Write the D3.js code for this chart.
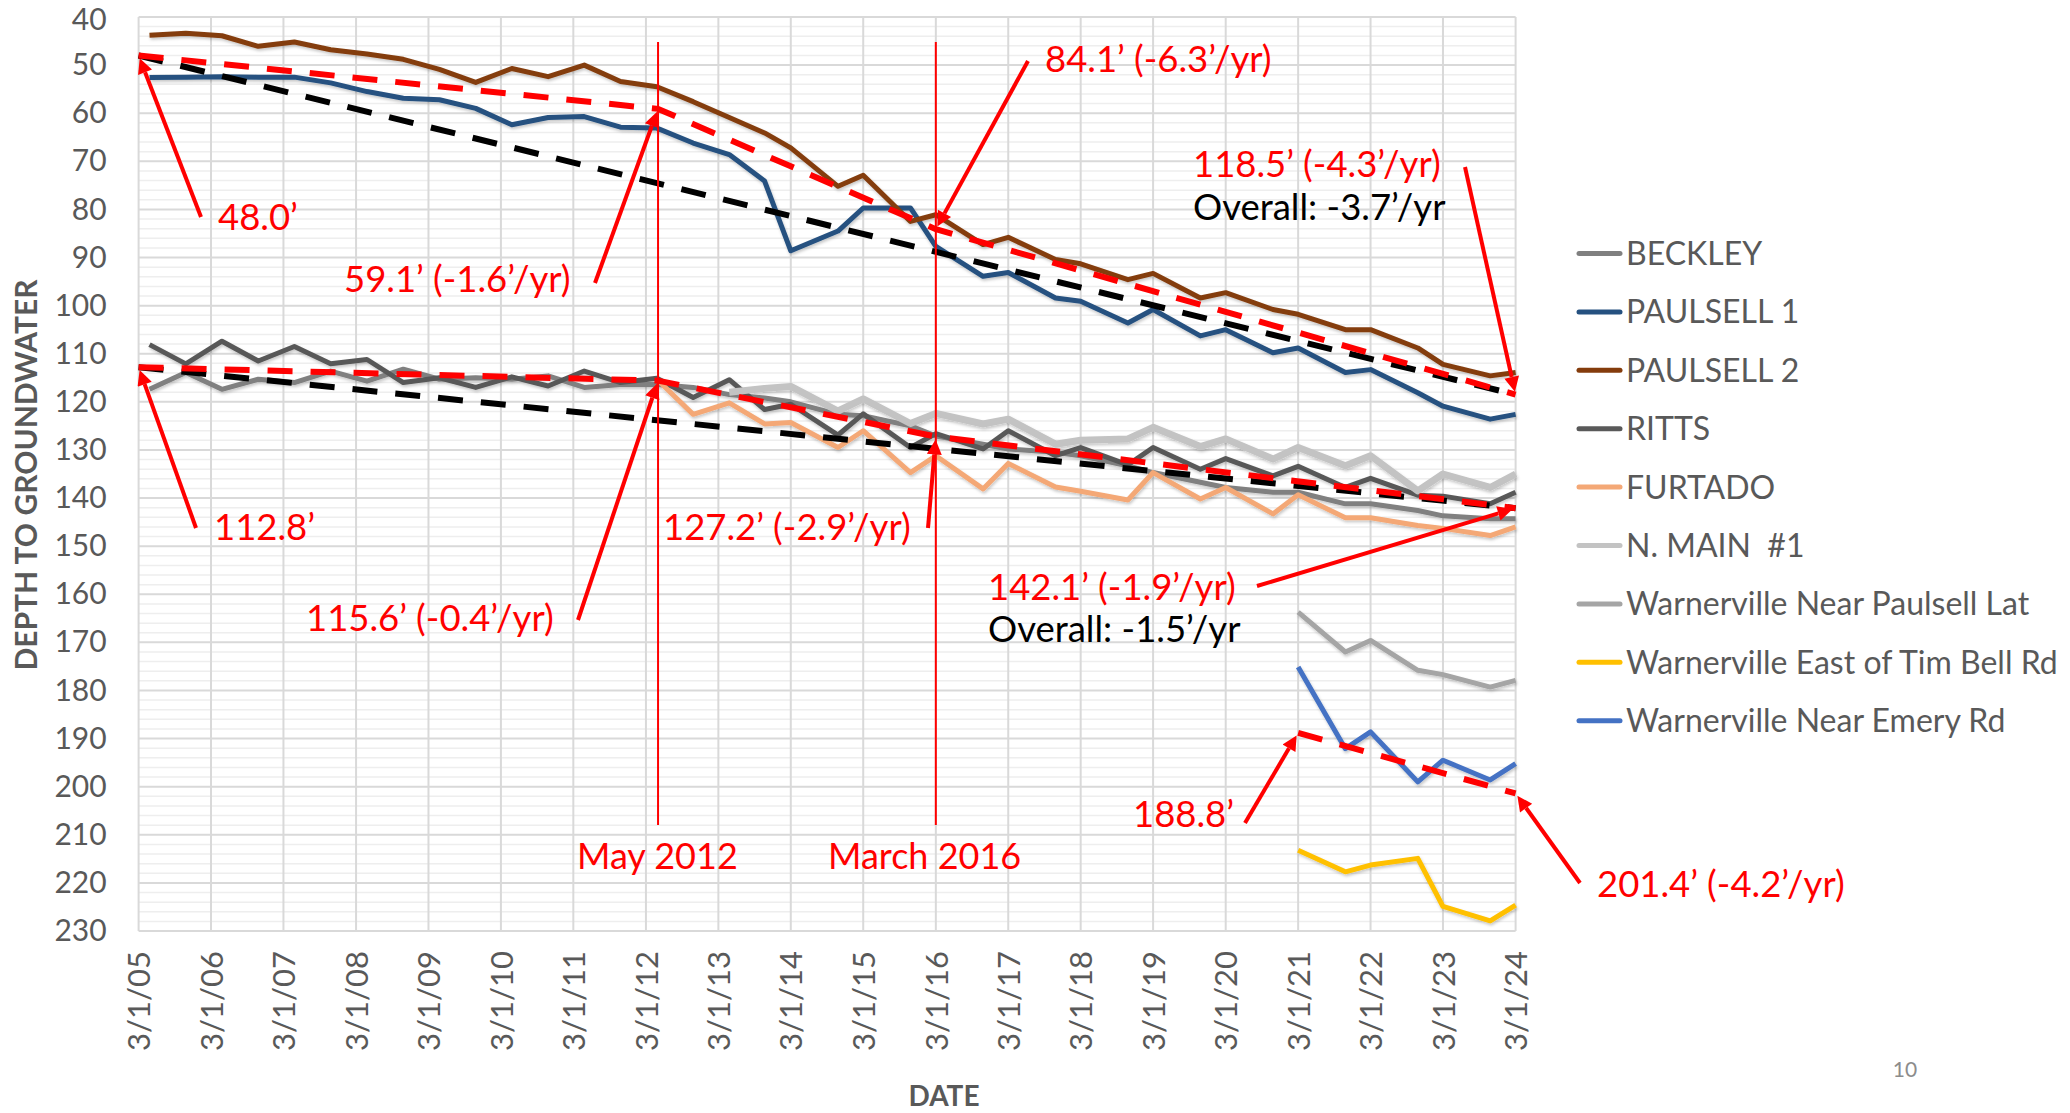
<!DOCTYPE html>
<html>
<head>
<meta charset="utf-8">
<script src="https://cdn.jsdelivr.net/npm/d3@7"></script>
<style>
  body { margin: 0; background: #fff; }
  text { font-family: Lato, 'Open Sans', sans-serif; }
</style>
</head>
<body>
<div id="chart"></div>
<script>
// readings (spring / fall)
const sampleDates = [
  '2005-04-25', '2005-10-25', '2006-04-25', '2006-10-25', '2007-04-25', '2007-10-25',
  '2008-04-25', '2008-10-25', '2009-04-25', '2009-10-25', '2010-04-25', '2010-10-25',
  '2011-04-25', '2011-10-25', '2012-04-25', '2012-10-25', '2013-04-25', '2013-10-20',
  '2014-03-01', '2014-10-25', '2015-03-01', '2015-10-25', '2016-03-01', '2016-10-25',
  '2017-03-01', '2017-10-25', '2018-03-01', '2018-10-25', '2019-03-01', '2019-10-25',
  '2020-03-01', '2020-10-25', '2021-03-01', '2021-10-25', '2022-03-01', '2022-10-25',
  '2023-03-01', '2023-10-25', '2024-03-01'
]
const warnervilleDates = ['2021-03-01', '2021-10-25', '2022-03-01', '2022-10-25', '2023-03-01', '2023-10-25', '2024-03-01']

const beckley = [117.4, 113.9, 117.4, 115.3, 116.0, 113.6, 115.7, 113.2, 115.3, 115.0,
  115.3, 114.6, 117.0, 116.4, 116.4, 117.0, 118.5, 119.2, 120.0, 122.6,
  122.9, 125.0, 127.1, 128.8, 129.8, 130.5, 131.2, 133.3, 134.7, 136.7,
  137.8, 138.8, 138.8, 141.2, 141.2, 142.6, 143.7, 144.3, 144.3]
const paulsell1 = [52.6, 52.5, 52.4, 52.5, 52.5, 53.7, 55.5, 56.9, 57.2, 59.0,
  62.4, 60.9, 60.7, 62.9, 63.1, 66.2, 68.6, 74.1, 88.6, 84.5,
  79.7, 79.7, 87.7, 93.9, 93.1, 98.4, 99.1, 103.6, 100.8, 106.3,
  105.0, 109.8, 108.8, 113.9, 113.3, 118.1, 120.9, 123.6, 122.6]
const paulsell2 = [43.8, 43.4, 43.9, 46.1, 45.2, 46.8, 47.7, 48.8, 50.9, 53.6,
  50.7, 52.4, 50.0, 53.4, 54.5, 57.6, 60.9, 64.1, 67.2, 75.2,
  72.9, 82.5, 81.1, 87.3, 85.8, 90.4, 91.3, 94.6, 93.3, 98.4,
  97.3, 100.8, 101.8, 105.0, 105.0, 108.8, 112.2, 114.6, 113.9]
const ritts = [108.1, 112.1, 107.4, 111.5, 108.5, 112.1, 111.2, 116.0, 115.0, 117.0,
  114.8, 116.7, 113.6, 116.0, 115.1, 119.1, 115.4, 121.6, 120.5, 126.9,
  122.5, 129.5, 126.6, 129.8, 126.0, 131.2, 129.5, 133.1, 129.5, 134.0,
  131.8, 135.4, 133.4, 137.8, 135.9, 139.4, 139.6, 141.2, 138.8]
// furtado starts spring 2012, n. main spring 2013
const furtado = [115.3, 122.6, 120.2, 124.6, 124.3, 129.5, 126.0, 134.7, 131.2, 138.1,
  132.8, 137.7, 138.6, 140.4, 134.7, 140.2, 137.8, 143.3, 139.3, 144.1,
  144.1, 145.7, 146.3, 147.8, 146.0]
const nMain = [118.0, 117.2, 116.8, 121.9, 119.4, 124.5, 122.4, 124.6, 123.6, 128.8,
  128.0, 127.7, 125.3, 129.3, 127.7, 131.9, 129.5, 133.3, 131.2, 138.5,
  135.0, 137.8, 135.0]
const nearPaulsellLat = [163.7, 172.0, 169.6, 175.8, 176.7, 179.3, 177.9]
const eastTimBell = [213.2, 217.7, 216.3, 214.9, 224.9, 227.9, 224.6]
const nearEmery = [175.1, 192.1, 188.6, 199.0, 194.5, 198.6, 195.2]

// trend lines
const trendDates = ['2005-03-01', '2012-05-01', '2016-03-01', '2024-03-01']
const upperTrend = [48.0, 59.1, 84.1, 118.5]
const lowerTrend = [112.8, 115.6, 127.2, 142.1]
const overallDates = ['2005-03-01', '2024-03-01']
const upperOverall = [48.0, 118.5]
const lowerOverall = [112.8, 142.1]
const warnTrendDates = ['2021-03-01', '2024-03-01']
const warnTrend = [188.8, 201.4]

const eventDates = ['2012-05-01', '2016-03-01']
const eventLabels = ['May 2012', 'March 2016']

const depthTicks = [40, 50, 60, 70, 80, 90, 100, 110, 120, 130, 140, 150, 160, 170, 180, 190, 200, 210, 220, 230]
const yearTicks = ['2005-03-01', '2006-03-01', '2007-03-01', '2008-03-01', '2009-03-01', '2010-03-01',
  '2011-03-01', '2012-03-01', '2013-03-01', '2014-03-01', '2015-03-01', '2016-03-01', '2017-03-01',
  '2018-03-01', '2019-03-01', '2020-03-01', '2021-03-01', '2022-03-01', '2023-03-01', '2024-03-01']

const parseDate = d3.timeParse('%Y-%m-%d')
const width = 2070
const height = 1113
const plot = { left: 138.6, right: 1515.6, top: 17, bottom: 931 }

const series = [
  { name: 'BECKLEY', color: '#808080', w: 5, dates: sampleDates, values: beckley },
  { name: 'PAULSELL 1', color: '#255180', w: 5, dates: sampleDates, values: paulsell1 },
  { name: 'PAULSELL 2', color: '#843c0c', w: 5, dates: sampleDates, values: paulsell2 },
  { name: 'RITTS', color: '#595959', w: 5, dates: sampleDates, values: ritts },
  { name: 'FURTADO', color: '#f4a876', w: 5, dates: sampleDates.slice(14), values: furtado },
  { name: 'N. MAIN  #1', color: '#c3c3c3', w: 7, dates: sampleDates.slice(16), values: nMain },
  { name: 'Warnerville Near Paulsell Lat', color: '#a5a5a5', w: 5, dates: warnervilleDates, values: nearPaulsellLat },
  { name: 'Warnerville East of Tim Bell Rd', color: '#ffc000', w: 5, dates: warnervilleDates, values: eastTimBell },
  { name: 'Warnerville Near Emery Rd', color: '#4472c4', w: 5, dates: warnervilleDates, values: nearEmery }
]

const svg = d3.select('#chart').append('svg').attr('width', width).attr('height', height)
svg.append('rect').attr('width', width).attr('height', height).attr('fill', '#fff')

const defs = svg.append('defs')
defs.append('filter').attr('id', 'shadow').attr('filterUnits', 'userSpaceOnUse')
  .attr('x', 0).attr('y', 0).attr('width', width).attr('height', height)
  .append('feDropShadow').attr('dx', 1).attr('dy', 2).attr('stdDeviation', 1.5)
  .attr('flood-color', '#000').attr('flood-opacity', 0.22)
defs.append('marker').attr('id', 'arrowHead').attr('markerUnits', 'userSpaceOnUse')
  .attr('viewBox', '0 0 10 10').attr('refX', 0).attr('refY', 5)
  .attr('markerWidth', 18).attr('markerHeight', 15).attr('orient', 'auto')
  .append('path').attr('d', 'M0,0L10,5L0,10z').attr('fill', '#ff0000')

const x = d3.scaleTime().domain([parseDate(yearTicks[0]), parseDate(yearTicks[yearTicks.length - 1])]).range([plot.left, plot.right])
const y = d3.scaleLinear().domain([40, 230]).range([plot.top, plot.bottom])

// grid
const grid = svg.append('g')
const minorLevels = d3.range(40, 230, 2).filter(v => v % 10 !== 0)
grid.selectAll('.minor').data(minorLevels).join('line')
  .attr('x1', plot.left).attr('x2', plot.right)
  .attr('y1', d => y(d)).attr('y2', d => y(d))
  .attr('stroke', '#eeeeee').attr('stroke-width', 1.5)
grid.selectAll('.major').data(depthTicks).join('line')
  .attr('x1', plot.left).attr('x2', plot.right)
  .attr('y1', d => y(d)).attr('y2', d => y(d))
  .attr('stroke', '#d9d9d9').attr('stroke-width', 2)
grid.selectAll('.vert').data(yearTicks).join('line')
  .attr('x1', d => x(parseDate(d))).attr('x2', d => x(parseDate(d)))
  .attr('y1', plot.top).attr('y2', plot.bottom)
  .attr('stroke', '#d9d9d9').attr('stroke-width', 2)

// axes
const yAxis = svg.append('g').attr('transform', `translate(${plot.left},0)`)
  .call(d3.axisLeft(y).tickValues(depthTicks).tickSize(0).tickPadding(32))
yAxis.select('.domain').remove()
yAxis.selectAll('text').attr('font-family', 'Lato').attr('font-size', 30).attr('fill', '#595959')
  .attr('dy', (d, i) => i === 0 ? '0.42em' : '0.32em')

const xAxis = svg.append('g').attr('transform', `translate(0,${plot.bottom})`)
  .call(d3.axisBottom(x).tickValues(yearTicks.map(parseDate)).tickFormat(d3.timeFormat('%-m/%-d/%y')).tickSize(0))
xAxis.select('.domain').remove()
xAxis.selectAll('text')
  .attr('font-family', 'Lato').attr('font-size', 31).attr('fill', '#595959')
  .attr('y', 0).attr('x', -20).attr('dy', '0.36em')
  .attr('transform', 'rotate(-90)')
  .style('text-anchor', 'end')

svg.append('text')
  .attr('transform', 'translate(37,475)rotate(-90)')
  .attr('text-anchor', 'middle')
  .attr('font-size', 30).attr('font-weight', 'bold').attr('fill', '#595959')
  .text('DEPTH TO GROUNDWATER')
svg.append('text')
  .attr('x', 944).attr('y', 1106)
  .attr('text-anchor', 'middle')
  .attr('font-size', 28).attr('font-weight', 'bold').attr('fill', '#595959')
  .text('DATE')

// series lines
const line = d3.line().x(d => x(d.date)).y(d => y(d.v))
const lines = svg.append('g').attr('filter', 'url(#shadow)')
series.forEach(s => {
  const pts = s.values.map((v, i) => ({ date: parseDate(s.dates[i]), v: v }))
  lines.append('path').datum(pts)
    .attr('d', line)
    .attr('fill', 'none')
    .attr('stroke', s.color)
    .attr('stroke-width', s.w)
    .attr('stroke-linejoin', 'round')
})

// trend lines
function drawTrend (dates, values, color) {
  const pts = values.map((v, i) => ({ date: parseDate(dates[i]), v: v }))
  svg.append('path').datum(pts)
    .attr('d', line)
    .attr('fill', 'none')
    .attr('stroke', color)
    .attr('stroke-width', 6)
    .attr('stroke-dasharray', '25,18')
}
drawTrend(overallDates, upperOverall, '#000')
drawTrend(overallDates, lowerOverall, '#000')
drawTrend(trendDates, upperTrend, '#ff0000')
drawTrend(trendDates, lowerTrend, '#ff0000')
drawTrend(warnTrendDates, warnTrend, '#ff0000')

// event lines
eventDates.forEach((d, i) => {
  svg.append('line')
    .attr('x1', x(parseDate(d))).attr('x2', x(parseDate(d)))
    .attr('y1', 42).attr('y2', 825)
    .attr('stroke', '#ff0000').attr('stroke-width', 2)
})
const eventLabelPos = [[577, 869], [828, 869]]
eventLabels.forEach((t, i) => {
  svg.append('text').attr('x', eventLabelPos[i][0]).attr('y', eventLabelPos[i][1])
    .attr('font-size', 36).attr('fill', '#ff0000').text(t)
})

// callouts: text position, arrow tail, target point (date, depth)
const callouts = [
  { text: '48.0’', pos: [218, 230], tail: [201, 217], at: ['2005-03-01', 48.0] },
  { text: '59.1’ (-1.6’/yr)', pos: [344, 292], tail: [595, 283], at: ['2012-05-01', 59.1] },
  { text: '84.1’ (-6.3’/yr)', pos: [1045, 72], tail: [1028, 61], at: ['2016-03-01', 84.1] },
  { text: '118.5’ (-4.3’/yr)', pos: [1193, 177], tail: [1465, 167], at: ['2024-03-01', 118.5] },
  { text: '112.8’', pos: [214, 540], tail: [196, 528], at: ['2005-03-01', 112.8] },
  { text: '115.6’ (-0.4’/yr)', pos: [306, 631], tail: [578, 620], at: ['2012-05-01', 115.6] },
  { text: '127.2’ (-2.9’/yr)', pos: [663, 540], tail: [928, 528], at: ['2016-03-01', 127.2] },
  { text: '142.1’ (-1.9’/yr)', pos: [988, 600], tail: [1257, 586], at: ['2024-03-01', 142.1] },
  { text: '188.8’', pos: [1133, 827], tail: [1245, 823], at: ['2021-03-01', 188.8] },
  { text: '201.4’ (-4.2’/yr)', pos: [1597, 897], tail: [1580, 883], at: ['2024-03-01', 201.4] }
]
const overallNotes = [
  { text: 'Overall: -3.7’/yr', pos: [1193, 220] },
  { text: 'Overall: -1.5’/yr', pos: [988, 642] }
]

callouts.forEach(c => {
  const tx = x(parseDate(c.at[0]))
  const ty = y(c.at[1])
  const dx = tx - c.tail[0]
  const dy = ty - c.tail[1]
  const len = Math.sqrt(dx * dx + dy * dy)
  svg.append('line')
    .attr('x1', c.tail[0]).attr('y1', c.tail[1])
    .attr('x2', tx - dx / len * 18).attr('y2', ty - dy / len * 18)
    .attr('stroke', '#ff0000').attr('stroke-width', 4)
    .attr('marker-end', 'url(#arrowHead)')
  svg.append('text').attr('x', c.pos[0]).attr('y', c.pos[1])
    .attr('font-size', 36.5).attr('fill', '#ff0000').text(c.text)
})
overallNotes.forEach(n => {
  svg.append('text').attr('x', n.pos[0]).attr('y', n.pos[1])
    .attr('font-size', 36.5).attr('fill', '#000').text(n.text)
})

// legend
const legend = svg.append('g')
series.forEach((s, i) => {
  const ly = 253.5 + i * 58.4
  legend.append('line')
    .attr('x1', 1579).attr('x2', 1620).attr('y1', ly).attr('y2', ly)
    .attr('stroke', s.color).attr('stroke-width', 5).attr('stroke-linecap', 'round')
  legend.append('text').attr('x', 1626).attr('y', ly).attr('dy', '0.36em')
    .attr('font-size', 32).attr('fill', '#595959')
    .style('white-space', 'pre')
    .text(s.name)
})

// slide number
svg.append('text').attr('x', 1905).attr('y', 1077).attr('text-anchor', 'middle')
  .attr('font-size', 21).attr('fill', '#8c8c8c').text('10')
</script>
</body>
</html>
